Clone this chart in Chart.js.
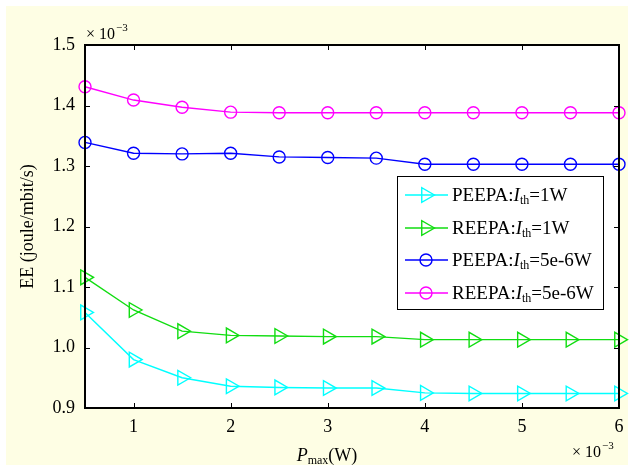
<!DOCTYPE html>
<html>
<head>
<meta charset="utf-8">
<script src="https://cdn.jsdelivr.net/npm/chart.js@4.4.1/dist/chart.umd.min.js"></script>
<style>
  html, body { margin: 0; padding: 0; background: #fff; }
  #wrap { width: 632px; height: 470px; }
</style>
</head>
<body>
<div id="wrap"><canvas id="c" width="632" height="470"></canvas></div>
<script>
// P_max (x 10^-3 W)
const pmax = [0.5, 1, 1.5, 2, 2.5, 3, 3.5, 4, 4.5, 5, 5.5, 6];
// EE (x 10^-3 joule/mbit/s)
const peepa1W = [1.058, 0.980, 0.950, 0.936, 0.934, 0.933, 0.933, 0.925, 0.924, 0.924, 0.924, 0.924];
const reepa1W = [1.116, 1.062, 1.027, 1.020, 1.019, 1.018, 1.018, 1.013, 1.013, 1.013, 1.013, 1.013];
const peepa5e6 = [1.339, 1.321, 1.320, 1.321, 1.315, 1.314, 1.313, 1.303, 1.303, 1.303, 1.303, 1.303];
const reepa5e6 = [1.431, 1.409, 1.397, 1.389, 1.388, 1.388, 1.388, 1.388, 1.388, 1.388, 1.388, 1.388];

const xTicks = [1, 2, 3, 4, 5, 6];
const yTicks = [0.9, 1.0, 1.1, 1.2, 1.3, 1.4, 1.5];

const seriesNames = ["PEEPA", "REEPA", "PEEPA", "REEPA"];
const seriesIth = ["1W", "1W", "5e-6W", "5e-6W"];

const SERIF = "'Liberation Serif', 'DejaVu Serif', serif";

function toXY(ys) {
  return ys.map((y, i) => ({ x: pmax[i], y: y }));
}

function line(ys, color, shape) {
  const tri = shape === "tri";
  return {
    data: toXY(ys),
    borderColor: color,
    backgroundColor: "rgba(0,0,0,0)",
    borderWidth: 1.4,
    pointStyle: tri ? "triangle" : "circle",
    rotation: tri ? 90 : 0,
    pointRadius: tri ? 8.5 : 6,
    pointHoverRadius: tri ? 8.5 : 6,
    pointBorderWidth: 1.4,
    pointBorderColor: color,
    pointBackgroundColor: "rgba(0,0,0,0)",
    tension: 0,
    clip: false,
  };
}

const colors = ["#00ffff", "#11dd11", "#0000ff", "#ff00ff"];
const shapes = ["tri", "tri", "circ", "circ"];

// draws "x 10^-3" multiplier text
function drawMult(ctx, x, base) {
  ctx.font = "16px " + SERIF;
  ctx.textAlign = "left";
  ctx.textBaseline = "alphabetic";
  ctx.fillText("\u00d7 10", x, base);
  const w = ctx.measureText("\u00d7 10").width;
  ctx.font = "11px " + SERIF;
  ctx.fillText("\u22123", x + w + 1, base - 8);
}

function drawMarker(ctx, shape, color, x, y) {
  ctx.save();
  ctx.strokeStyle = color;
  ctx.lineWidth = 1.4;
  ctx.beginPath();
  if (shape === "tri") {
    const r = 8.5;
    ctx.moveTo(x + r, y);
    ctx.lineTo(x - r / 2, y - r * Math.sqrt(3) / 2);
    ctx.lineTo(x - r / 2, y + r * Math.sqrt(3) / 2);
    ctx.closePath();
  } else {
    ctx.arc(x, y, 6, 0, Math.PI * 2);
  }
  ctx.stroke();
  ctx.restore();
}

const decor = {
  id: "decor",
  beforeDraw(chart) {
    const ctx = chart.ctx;
    const a = chart.chartArea;
    ctx.save();
    ctx.fillStyle = "#fefee4";
    ctx.fillRect(6, 6, 622, 459);
    ctx.fillStyle = "#ffffff";
    ctx.fillRect(a.left, a.top, a.right - a.left, a.bottom - a.top);
    ctx.restore();
  },
  afterDraw(chart) {
    const ctx = chart.ctx;
    const a = chart.chartArea;
    const xs = chart.scales.x;
    const ys = chart.scales.y;
    ctx.save();

    // box
    ctx.strokeStyle = "#000";
    ctx.lineWidth = 2;
    ctx.strokeRect(a.left, a.top, a.right - a.left, a.bottom - a.top);

    // inward ticks on all sides
    ctx.lineWidth = 1;
    ctx.beginPath();
    const tl = 5;
    xTicks.forEach((v) => {
      const px = Math.round(xs.getPixelForValue(v)) + 0.5;
      ctx.moveTo(px, a.bottom);
      ctx.lineTo(px, a.bottom - tl);
      ctx.moveTo(px, a.top);
      ctx.lineTo(px, a.top + tl);
    });
    yTicks.forEach((v) => {
      const py = Math.round(ys.getPixelForValue(v)) + 0.5;
      ctx.moveTo(a.left, py);
      ctx.lineTo(a.left + tl, py);
      ctx.moveTo(a.right, py);
      ctx.lineTo(a.right - tl, py);
    });
    ctx.stroke();

    ctx.fillStyle = "#000";
    drawMult(ctx, a.left + 1, a.top - 6);
    drawMult(ctx, 572, 457);

    // x title: P_max(W)
    ctx.textBaseline = "alphabetic";
    ctx.textAlign = "left";
    ctx.font = "italic 18px " + SERIF;
    const pW = ctx.measureText("P").width;
    ctx.font = "12px " + SERIF;
    const mW = ctx.measureText("max").width;
    ctx.font = "18px " + SERIF;
    const wW = ctx.measureText("(W)").width;
    let tx = 327 - (pW + mW + wW) / 2;
    const tb = 461;
    ctx.font = "italic 18px " + SERIF;
    ctx.fillText("P", tx, tb);
    tx += pW;
    ctx.font = "12px " + SERIF;
    ctx.fillText("max", tx, tb + 3);
    tx += mW;
    ctx.font = "18px " + SERIF;
    ctx.fillText("(W)", tx, tb);

    // y title
    ctx.save();
    ctx.translate(28, (a.top + a.bottom) / 2);
    ctx.rotate(-Math.PI / 2);
    ctx.textAlign = "center";
    ctx.textBaseline = "middle";
    ctx.font = "18px " + SERIF;
    ctx.fillText("EE (joule/mbit/s)", 0, 0);
    ctx.restore();

    // legend
    const lx = 397, ly = 176, lw = 206, lh = 133;
    ctx.fillStyle = "#fff";
    ctx.fillRect(lx, ly, lw, lh);
    ctx.strokeStyle = "#000";
    ctx.lineWidth = 1;
    ctx.strokeRect(lx + 0.5, ly + 0.5, lw, lh);
    const rowY = [195, 228, 260, 293];
    for (let i = 0; i < 4; i++) {
      const y = rowY[i];
      ctx.strokeStyle = colors[i];
      ctx.lineWidth = 1.4;
      ctx.beginPath();
      ctx.moveTo(405, y);
      ctx.lineTo(448, y);
      ctx.stroke();
      drawMarker(ctx, shapes[i], colors[i], 426, y);

      ctx.fillStyle = "#000";
      ctx.textAlign = "left";
      ctx.textBaseline = "alphabetic";
      let x = 452;
      const b = y + 6;
      ctx.font = "19px " + SERIF;
      ctx.fillText(seriesNames[i] + ":", x, b);
      x += ctx.measureText(seriesNames[i] + ":").width;
      ctx.font = "italic 19px " + SERIF;
      ctx.fillText("I", x, b);
      x += ctx.measureText("I").width;
      ctx.font = "12px " + SERIF;
      ctx.fillText("th", x, b + 3);
      x += ctx.measureText("th").width;
      ctx.font = "19px " + SERIF;
      ctx.fillText("=" + seriesIth[i], x, b);
    }
    ctx.restore();
  },
};

new Chart(document.getElementById("c"), {
  type: "line",
  data: {
    datasets: [
      line(peepa1W, colors[0], shapes[0]),
      line(reepa1W, colors[1], shapes[1]),
      line(peepa5e6, colors[2], shapes[2]),
      line(reepa5e6, colors[3], shapes[3]),
    ],
  },
  options: {
    responsive: false,
    animation: false,
    layout: { padding: { left: 0, right: 13, top: 45, bottom: 0 } },
    plugins: {
      legend: { display: false },
      tooltip: { enabled: false },
    },
    scales: {
      x: {
        type: "linear",
        min: 0.5,
        max: 6,
        afterBuildTicks: (s) => { s.ticks = xTicks.map((v) => ({ value: v })); },
        afterFit: (s) => { s.height = 62; },
        grid: { display: false, drawTicks: false },
        border: { display: false },
        ticks: {
          color: "#000",
          font: { family: SERIF, size: 18 },
          padding: 8,
          maxRotation: 0,
          autoSkip: false,
        },
      },
      y: {
        type: "linear",
        min: 0.9,
        max: 1.5,
        afterBuildTicks: (s) => { s.ticks = yTicks.map((v) => ({ value: v })); },
        afterFit: (s) => { s.width = 85; },
        grid: { display: false, drawTicks: false },
        border: { display: false },
        ticks: {
          color: "#000",
          font: { family: SERIF, size: 18 },
          padding: 10,
          autoSkip: false,
          callback: (v) => Number(v).toFixed(1),
        },
      },
    },
  },
  plugins: [decor],
});
</script>
</body>
</html>
